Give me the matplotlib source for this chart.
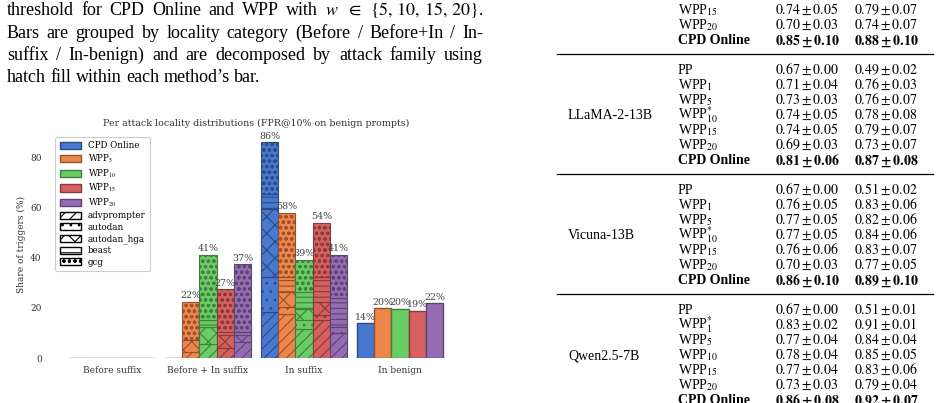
import numpy as np
import matplotlib
matplotlib.use('Agg')
import matplotlib.pyplot as plt
from matplotlib.patches import Patch

##Figure geometry (pixels of the screenshot)
W, H = 939, 403

##Chart data: share of triggers (%) per method, split by attack family
methods = ['CPD Online', 'WPP$_{5}$', 'WPP$_{10}$', 'WPP$_{15}$', 'WPP$_{20}$']
categories = ['Before suffix', 'Before + In suffix', 'In suffix', 'In benign']
attacks = ['advprompter', 'autodan', 'autodan_hga', 'beast', 'gcg']
attack_hatches = ['///', '..', 'xx', '---', 'ooo']

##rows = methods, columns = attacks
before_suffix = np.zeros((5, 5))
before_in_suffix = np.array([
    [0.0, 0.0, 0.0, 0.0, 0.0],
    [2.5, 0.0, 4.7, 0.0, 15.2],
    [5.5, 0.0, 7.0, 2.7, 26.1],
    [3.9, 0.0, 5.3, 1.3, 16.9],
    [6.5, 0.0, 2.7, 1.3, 26.9],
])
in_suffix = np.array([
    [18.5, 14.0, 27.0, 6.0, 20.7],
    [17.5, 3.0, 6.0, 6.0, 25.5],
    [11.5, 3.5, 4.5, 7.0, 12.8],
    [15.2, 2.0, 5.0, 10.0, 21.8],
    [10.1, 2.4, 0.0, 11.4, 17.4],
])
in_benign = [13.9, 19.9, 19.6, 18.9, 21.9]

##Table data
models = ['', 'LLaMA-2-13B', 'Vicuna-13B', 'Qwen2.5-7B']
row_names = [
    ['PP', 'WPP$_{1}$', 'WPP$_{5}$', 'WPP$^{*}_{10}$', 'WPP$_{15}$', 'WPP$_{20}$', 'CPD Online'],
    ['PP', 'WPP$_{1}$', 'WPP$_{5}$', 'WPP$^{*}_{10}$', 'WPP$_{15}$', 'WPP$_{20}$', 'CPD Online'],
    ['PP', 'WPP$_{1}$', 'WPP$_{5}$', 'WPP$^{*}_{10}$', 'WPP$_{15}$', 'WPP$_{20}$', 'CPD Online'],
    ['PP', 'WPP$^{*}_{1}$', 'WPP$_{5}$', 'WPP$_{10}$', 'WPP$_{15}$', 'WPP$_{20}$', 'CPD Online'],
]
col_a = [
    [None, None, None, None, '0.74\\pm0.05', '0.70\\pm0.03', '0.85\\pm0.10'],
    ['0.67\\pm0.00', '0.71\\pm0.04', '0.73\\pm0.03', '0.74\\pm0.05', '0.74\\pm0.05', '0.69\\pm0.03', '0.81\\pm0.06'],
    ['0.67\\pm0.00', '0.76\\pm0.05', '0.77\\pm0.05', '0.77\\pm0.05', '0.76\\pm0.06', '0.70\\pm0.03', '0.86\\pm0.10'],
    ['0.67\\pm0.00', '0.83\\pm0.02', '0.77\\pm0.04', '0.78\\pm0.04', '0.77\\pm0.04', '0.73\\pm0.03', '0.86\\pm0.08'],
]
col_b = [
    [None, None, None, None, '0.79\\pm0.07', '0.74\\pm0.07', '0.88\\pm0.10'],
    ['0.49\\pm0.02', '0.76\\pm0.03', '0.76\\pm0.07', '0.78\\pm0.08', '0.79\\pm0.07', '0.73\\pm0.07', '0.87\\pm0.08'],
    ['0.51\\pm0.02', '0.83\\pm0.06', '0.82\\pm0.06', '0.84\\pm0.06', '0.83\\pm0.07', '0.77\\pm0.05', '0.89\\pm0.10'],
    ['0.51\\pm0.01', '0.91\\pm0.01', '0.84\\pm0.04', '0.85\\pm0.05', '0.83\\pm0.06', '0.79\\pm0.04', '0.92\\pm0.07'],
]

caption_lines = [
    ['threshold', 'for', 'CPD', 'Online', 'and', 'WPP', 'with', '$w$', '$\\in$', '$\\{5,\\,10,\\,15,\\,20\\}$.'],
    'Bars are grouped by locality category (Before / Before+In / In-'.split(' '),
    'suffix / In-benign) and are decomposed by attack family using'.split(' '),
    'hatch fill within each method\u2019s bar.'.split(' '),
]

plt.rcParams['mathtext.fontset'] = 'stix'
plt.rcParams['hatch.linewidth'] = 0.8
colors = ['#4878d0', '#ee854a', '#6acc64', '#d65f5f', '#956cb4']


def darker(c, f=0.62):
    import matplotlib.colors as mc
    r, g, b = mc.to_rgb(c)
    return (r * f, g * f, b * f)


def fx(px):
    return px / W


def fy(py):
    return 1 - py / H


fig = plt.figure(figsize=(W / 100, H / 100), dpi=100)
renderer = fig.canvas.get_renderer()

##Caption text (justified)
cap_fs = 13.0
baselines = [15, 37.5, 60, 82]
for k, words in enumerate(caption_lines):
    texts = [fig.text(0, fy(baselines[k]), w, fontsize=cap_fs, family='Liberation Serif',
                      va='baseline', ha='left') for w in words]
    widths = [t.get_window_extent(renderer).width for t in texts]
    if k < 3:
        gap = (483 - 7 - sum(widths)) / (len(words) - 1)
    else:
        gap = cap_fs * 100 / 72 * 0.25
    x = 7
    for t, w in zip(texts, widths):
        t.set_x(fx(x))
        x += w + gap

##Chart
ax = fig.add_axes([fx(50), fy(358), (462 - 50) / W, (358 - 131.7) / H])
xpos = np.arange(len(categories))
width = 0.18
stacked = [before_suffix, before_in_suffix, in_suffix]
for i in range(len(methods)):
    xi = xpos + (i - 2) * width
    edge = darker(colors[i])
    for c in range(3):
        vals = stacked[c][i]
        if vals.sum() == 0:
            ax.bar(xi[c], 0, width, color=colors[i], edgecolor=edge, linewidth=1)
            continue
        bottom = 0
        for a in range(len(attacks)):
            if vals[a] <= 0:
                continue
            ax.bar(xi[c], vals[a], width, bottom=bottom, color=colors[i], edgecolor=edge,
                   hatch=attack_hatches[a], linewidth=0.8)
            bottom += vals[a]
        ax.text(xi[c], bottom + 0.6, '%d%%' % round(bottom), ha='center', va='bottom',
                fontsize=6.8, color='#444444', family='DejaVu Serif')
    ax.bar(xi[3], in_benign[i], width, color=colors[i], edgecolor=edge, linewidth=1)
    ax.text(xi[3], in_benign[i] + 0.6, '%d%%' % round(in_benign[i]), ha='center', va='bottom',
            fontsize=6.8, color='#444444', family='DejaVu Serif')

ax.set_xticks(xpos)
ax.set_xticklabels(categories, family='DejaVu Serif', fontsize=6.5, color='#333333')
for lab in ax.get_yticklabels():
    lab.set_family('DejaVu Serif')
ax.tick_params(axis='both', length=0, labelsize=6.5, labelcolor='#333333', pad=6)
for s in ax.spines.values():
    s.set_visible(False)
ax.set_ylabel('Share of triggers (%)', family='DejaVu Serif', fontsize=6.5, color='#333333', labelpad=3)
ax.set_title('Per attack locality distributions (FPR@10% on benign prompts)', family='DejaVu Serif',
             fontsize=6.8, color='#333333', pad=4)

handles = [Patch(facecolor=colors[i], edgecolor=darker(colors[i]), label=methods[i]) for i in range(5)]
handles += [Patch(facecolor='white', edgecolor='black', hatch=attack_hatches[a], label=attacks[a])
            for a in range(5)]
leg = ax.legend(handles=handles, loc='upper left', prop={'family': 'DejaVu Serif', 'size': 6.3},
                handlelength=2.4, handleheight=0.9, labelspacing=0.28, borderpad=0.5, framealpha=1,
                borderaxespad=0.6)
leg.get_frame().set_edgecolor('#cccccc')
leg.get_frame().set_linewidth(0.8)

##Table
tab_fs = 10
s = 15
label_y = [-5, 115, 235, 355]
for b in range(4):
    L = label_y[b]
    if models[b]:
        fig.text(fx(568), fy(L + 4.4), models[b], fontsize=tab_fs, family='Liberation Serif', va='baseline')
    for i in range(7):
        if col_a[b][i] is None:
            continue
        yc = L + (i - 3) * s + 4.4
        bold = row_names[b][i] == 'CPD Online'
        fig.text(fx(678), fy(yc), row_names[b][i], fontsize=tab_fs, family='Liberation Serif',
                 fontweight='bold' if bold else 'normal', va='baseline')
        if bold:
            ta = '$\\mathbf{' + col_a[b][i] + '}$'
            tb = '$\\mathbf{' + col_b[b][i] + '}$'
        else:
            ta = '$' + col_a[b][i] + '$'
            tb = '$' + col_b[b][i] + '$'
        fig.text(fx(775), fy(yc), ta, fontsize=tab_fs, va='baseline')
        fig.text(fx(854), fy(yc), tb, fontsize=tab_fs, va='baseline')
    if b < 3:
        ly = L + 3 * s + 14
        fig.add_artist(plt.Line2D([fx(557), fx(933)], [fy(ly), fy(ly)], color='black', linewidth=0.9))

fig.savefig('out.png', dpi=100)
